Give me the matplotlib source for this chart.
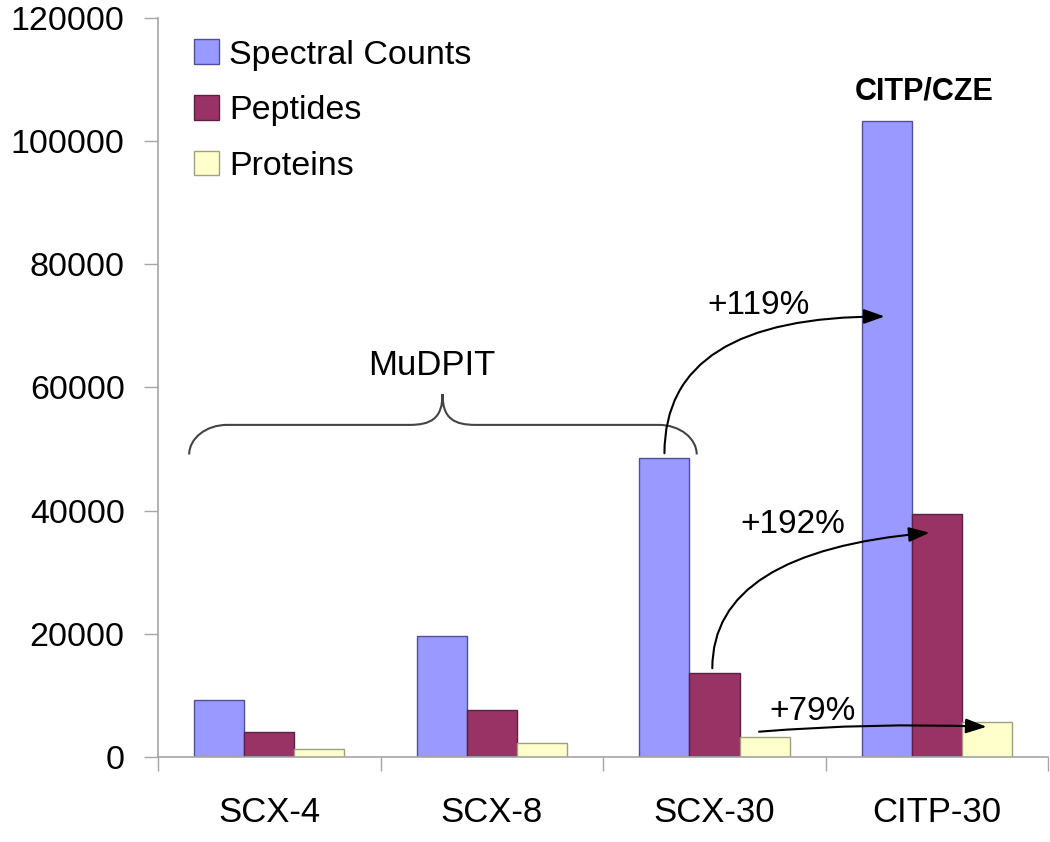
"""
Grouped bar chart: spectral counts, peptides and proteins for
MuDPIT (SCX-4/8/30) vs CITP/CZE (CITP-30).
"""

import matplotlib.pyplot as plt
import matplotlib.patches as mpatches
from matplotlib.path import Path
import numpy as np


# -------------------- Data --------------------------

CATEGORIES       = ["SCX-4", "SCX-8", "SCX-30", "CITP-30"]
SPECTRAL_COUNTS  = [9300, 19600, 48600, 103200]
PEPTIDES         = [4100, 7600, 13600, 39500]
PROTEINS         = [1300, 2300, 3200, 5700]

SERIES = [
    ("Spectral Counts", SPECTRAL_COUNTS, "#9999ff", "#50509a"),
    ("Peptides",        PEPTIDES,        "#993366", "#5e2040"),
    ("Proteins",        PROTEINS,        "#ffffcc", "#a0a080"),
]

Y_TICKS = [0, 20000, 40000, 60000, 80000, 100000, 120000]

FONT = "Liberation Sans"
AXIS_GRAY = "#a6a6a6"


# -------------------- Helpers --------------------------

def _brace(ax, x0, x1, xm, y_end, y_bar, y_tip, dx, dxm):
    """Curly brace opening downwards, drawn in data coords."""
    k = 0.55
    verts = [
        (x0, y_end),
        (x0, y_end + k * (y_bar - y_end)), (x0 + dx * (1 - k), y_bar),
        (x0 + dx, y_bar),
        (xm - dxm, y_bar),
        (xm - dxm * 0.35, y_bar), (xm, y_bar + 0.2 * (y_tip - y_bar)),
        (xm, y_tip),
        (xm, y_bar + 0.2 * (y_tip - y_bar)), (xm + dxm * 0.35, y_bar),
        (xm + dxm, y_bar),
        (x1 - dx, y_bar),
        (x1 - dx * (1 - k), y_bar), (x1, y_end + k * (y_bar - y_end)),
        (x1, y_end),
    ]
    codes = [
        Path.MOVETO,
        Path.CURVE4, Path.CURVE4, Path.CURVE4,
        Path.LINETO,
        Path.CURVE4, Path.CURVE4, Path.CURVE4,
        Path.CURVE4, Path.CURVE4, Path.CURVE4,
        Path.LINETO,
        Path.CURVE4, Path.CURVE4, Path.CURVE4,
    ]
    patch = mpatches.PathPatch(Path(verts, codes), facecolor="none",
                               edgecolor="#444444", linewidth=1.5,
                               zorder=4)
    ax.add_patch(patch)


def _arrow(ax, start, end, text, text_xy, style):
    ax.annotate(
        "", xy=end, xytext=start,
        arrowprops=dict(
            arrowstyle="-|>,head_length=0.9,head_width=0.32",
            connectionstyle=style,
            color="black", linewidth=1.5,
            shrinkA=0, shrinkB=0, mutation_scale=14,
        ),
        zorder=5,
    )
    ax.text(*text_xy, text, ha="center", va="center",
            fontsize=24, family=FONT, zorder=5)


# -------------------- Plot --------------------------

fig = plt.figure(figsize=(10.5, 8.42), dpi=100)
ax = fig.add_axes([0.1505, 0.101, 0.848, 0.878])

x = np.arange(len(CATEGORIES))
width = 0.225
offsets = [-width, 0, width]

for (label, vals, color, edge), off in zip(SERIES, offsets):
    ax.bar(x + off, vals, width=width, color=color, edgecolor=edge,
           linewidth=1.0, label=label, zorder=2)

ax.set_xlim(-0.5, len(CATEGORIES) - 0.5)
ax.set_ylim(0, 120000)

ax.set_yticks(Y_TICKS)
ax.set_yticklabels([str(t) for t in Y_TICKS], fontsize=24.5, family=FONT)
ax.tick_params(axis="y", length=10, width=1, color=AXIS_GRAY, pad=14)

ax.set_xticks(x)
ax.set_xticklabels(CATEGORIES, fontsize=25, family=FONT)
ax.set_xticks(np.arange(len(CATEGORIES) + 1) - 0.5, minor=True)
ax.tick_params(axis="x", which="major", length=0, pad=28)
ax.tick_params(axis="x", which="minor", length=10, width=1,
               color=AXIS_GRAY)

for side in ("top", "right"):
    ax.spines[side].set_visible(False)
for side in ("left", "bottom"):
    ax.spines[side].set_color(AXIS_GRAY)
    ax.spines[side].set_linewidth(1.2)

leg = ax.legend(loc="upper left", bbox_to_anchor=(0.0065, 1.012),
                frameon=False, prop={"family": FONT, "size": 24.5},
                handlelength=0.73, handleheight=0.73,
                handletextpad=0.3, labelspacing=0.72)

# -------------------- Annotations --------------------------

_brace(ax, x0=-0.36, x1=1.92, xm=0.778,
       y_end=49100, y_bar=53900, y_tip=58900, dx=0.17, dxm=0.15)
ax.text(0.728, 63500, "MuDPIT", ha="center", va="center",
        fontsize=25, family=FONT)

ax.text(2.944, 108000, "CITP/CZE", ha="center", va="center",
        fontsize=22, fontweight="bold", family=FONT)

_arrow(ax, (1.775, 49300), (2.764, 71500), "+119%", (2.20, 73300),
       "angle3,angleA=90,angleB=0")
_arrow(ax, (1.99, 14400), (2.966, 36400), "+192%", (2.35, 37700),
       "angle3,angleA=90,angleB=5")
_arrow(ax, (2.20, 4100), (3.222, 4900), "+79%", (2.44, 7300),
       "arc3,rad=-0.03")

fig.savefig("out.png", dpi=100, facecolor="white")
